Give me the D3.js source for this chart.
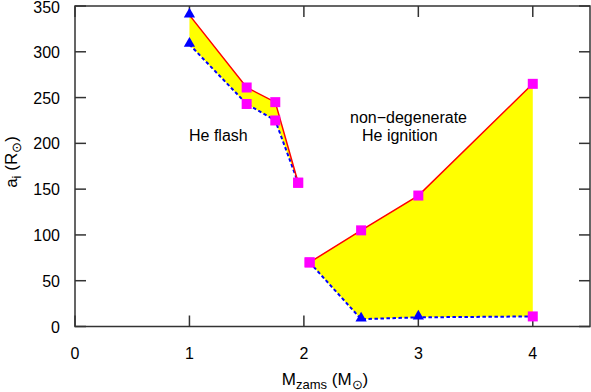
<!DOCTYPE html>
<html lang="en">
<head>
  <meta charset="UTF-8">
  <title>a_i vs M_zams</title>
  <script src="https://d3js.org/d3.v7.min.js"></script>
  <style>
    body { margin: 0; background: white; }
    text { font-family: "Liberation Sans", Arial, sans-serif; }
  </style>
</head>
<body>
  <div id="chart"></div>
  <script>
    // data
    const massLow = [1, 1.5, 1.75, 1.95];
    const upperLow = [340, 261, 245, 157];
    const lowerLow = [308, 243, 225, 157];
    const massHigh = [2.05, 2.5, 3, 4];
    const upperHigh = [70, 105, 143, 265];
    const lowerHigh = [70, 8, 10, 11];
    // marker type per point: "t" triangle, "s" square
    const upperMarkLow = ["t", "s", "s", "s"];
    const lowerMarkLow = ["t", "s", "s", "s"];
    const upperMarkHigh = ["s", "s", "s", "s"];
    const lowerMarkHigh = ["s", "t", "t", "s"];
    const xTicks = [0, 1, 2, 3, 4];
    const yTicks = [0, 50, 100, 150, 200, 250, 300, 350];

    const width = 591, height = 392;
    const margin = {left: 75, right: 1, top: 6, bottom: 66};

    const svg = d3.select("#chart").append("svg")
      .attr("width", width)
      .attr("height", height);

    const x = d3.scaleLinear().domain([0, 4.5]).range([margin.left, width - margin.right]);
    const y = d3.scaleLinear().domain([0, 350]).range([height - margin.bottom + 0.5, margin.top]);

    const groups = [
      {m: massLow, up: upperLow, lo: lowerLow, mu: upperMarkLow, ml: lowerMarkLow},
      {m: massHigh, up: upperHigh, lo: lowerHigh, mu: upperMarkHigh, ml: lowerMarkHigh}
    ];

    const area = d3.area()
      .x(d => x(d.m))
      .y0(d => y(d.lo))
      .y1(d => y(d.up));
    const line = d3.line().x(d => x(d[0])).y(d => y(d[1]));

    groups.forEach(g => {
      const pts = g.m.map((m, i) => ({m: m, up: g.up[i], lo: g.lo[i]}));
      svg.append("path")
        .attr("d", area(pts))
        .attr("fill", "#ffff00");
      svg.append("path")
        .attr("d", line(g.m.map((m, i) => [m, g.lo[i]])))
        .attr("fill", "none")
        .attr("stroke", "#0000ff")
        .attr("stroke-width", 2)
        .attr("stroke-dasharray", "3.5,2.5");
      svg.append("path")
        .attr("d", line(g.m.map((m, i) => [m, g.up[i]])))
        .attr("fill", "none")
        .attr("stroke", "#ff0000")
        .attr("stroke-width", 1.5);
    });

    // axes frame with inward ticks on all sides
    const frame = svg.append("g").attr("stroke", "#333").attr("stroke-width", 1.5);
    frame.append("rect")
      .attr("x", x(0)).attr("y", y(350))
      .attr("width", x(4.5) - x(0)).attr("height", y(0) - y(350))
      .attr("fill", "none");
    const tl = 11;
    xTicks.forEach(t => {
      frame.append("line").attr("x1", x(t)).attr("x2", x(t)).attr("y1", y(0)).attr("y2", y(0) - tl);
      frame.append("line").attr("x1", x(t)).attr("x2", x(t)).attr("y1", y(350)).attr("y2", y(350) + tl);
    });
    yTicks.forEach(t => {
      frame.append("line").attr("x1", x(0)).attr("x2", x(0) + tl).attr("y1", y(t)).attr("y2", y(t));
      frame.append("line").attr("x1", x(4.5)).attr("x2", x(4.5) - tl).attr("y1", y(t)).attr("y2", y(t));
    });

    // markers
    const tri = d3.symbol().type(d3.symbolTriangle).size(55);
    groups.forEach(g => {
      g.m.forEach((m, i) => {
        [[g.up[i], g.mu[i]], [g.lo[i], g.ml[i]]].forEach(([v, k]) => {
          if (k === "t") {
            svg.append("path")
              .attr("d", tri())
              .attr("transform", `translate(${x(m)},${y(v) - 1})`)
              .attr("fill", "#0000ff");
          } else {
            svg.append("rect")
              .attr("x", x(m) - 5).attr("y", y(v) - 5)
              .attr("width", 10).attr("height", 10)
              .attr("fill", "#ff00ff");
          }
        });
      });
    });

    // tick labels
    svg.selectAll(".xl").data(xTicks).join("text")
      .attr("x", d => x(d)).attr("y", y(0) + 32)
      .attr("text-anchor", "middle").attr("font-size", 16)
      .text(d => d);
    svg.selectAll(".yl").data(yTicks).join("text")
      .attr("x", 60).attr("y", d => y(d) + (d === 350 ? 6.5 : 6))
      .attr("text-anchor", "end").attr("font-size", 16)
      .text(d => d);

    // axis titles
    const xt = svg.append("text")
      .attr("x", 325).attr("y", 385)
      .attr("text-anchor", "middle").attr("font-size", 17);
    xt.append("tspan").text("M");
    xt.append("tspan").attr("font-size", 13).attr("dy", 4).text("zams");
    xt.append("tspan").attr("dy", -4).text(" (M");
    xt.append("tspan").attr("font-size", 13).attr("dy", 4).text("⊙");
    xt.append("tspan").attr("dy", -4).text(")");

    const yt = svg.append("text")
      .attr("transform", "translate(17,162) rotate(-90)")
      .attr("text-anchor", "middle").attr("font-size", 17);
    yt.append("tspan").text("a");
    yt.append("tspan").attr("font-size", 13).attr("dy", 4).text("i");
    yt.append("tspan").attr("dy", -4).text(" (R");
    yt.append("tspan").attr("font-size", 13).attr("dy", 4).text("⊙");
    yt.append("tspan").attr("dy", -4).text(")");

    // annotations
    svg.append("text").attr("x", 189).attr("y", 141).attr("font-size", 16).text("He flash");
    svg.append("text").attr("x", 350).attr("y", 123).attr("font-size", 16).text("non\u2212degenerate");
    svg.append("text").attr("x", 362).attr("y", 141).attr("font-size", 16).text("He ignition");
  </script>
</body>
</html>
